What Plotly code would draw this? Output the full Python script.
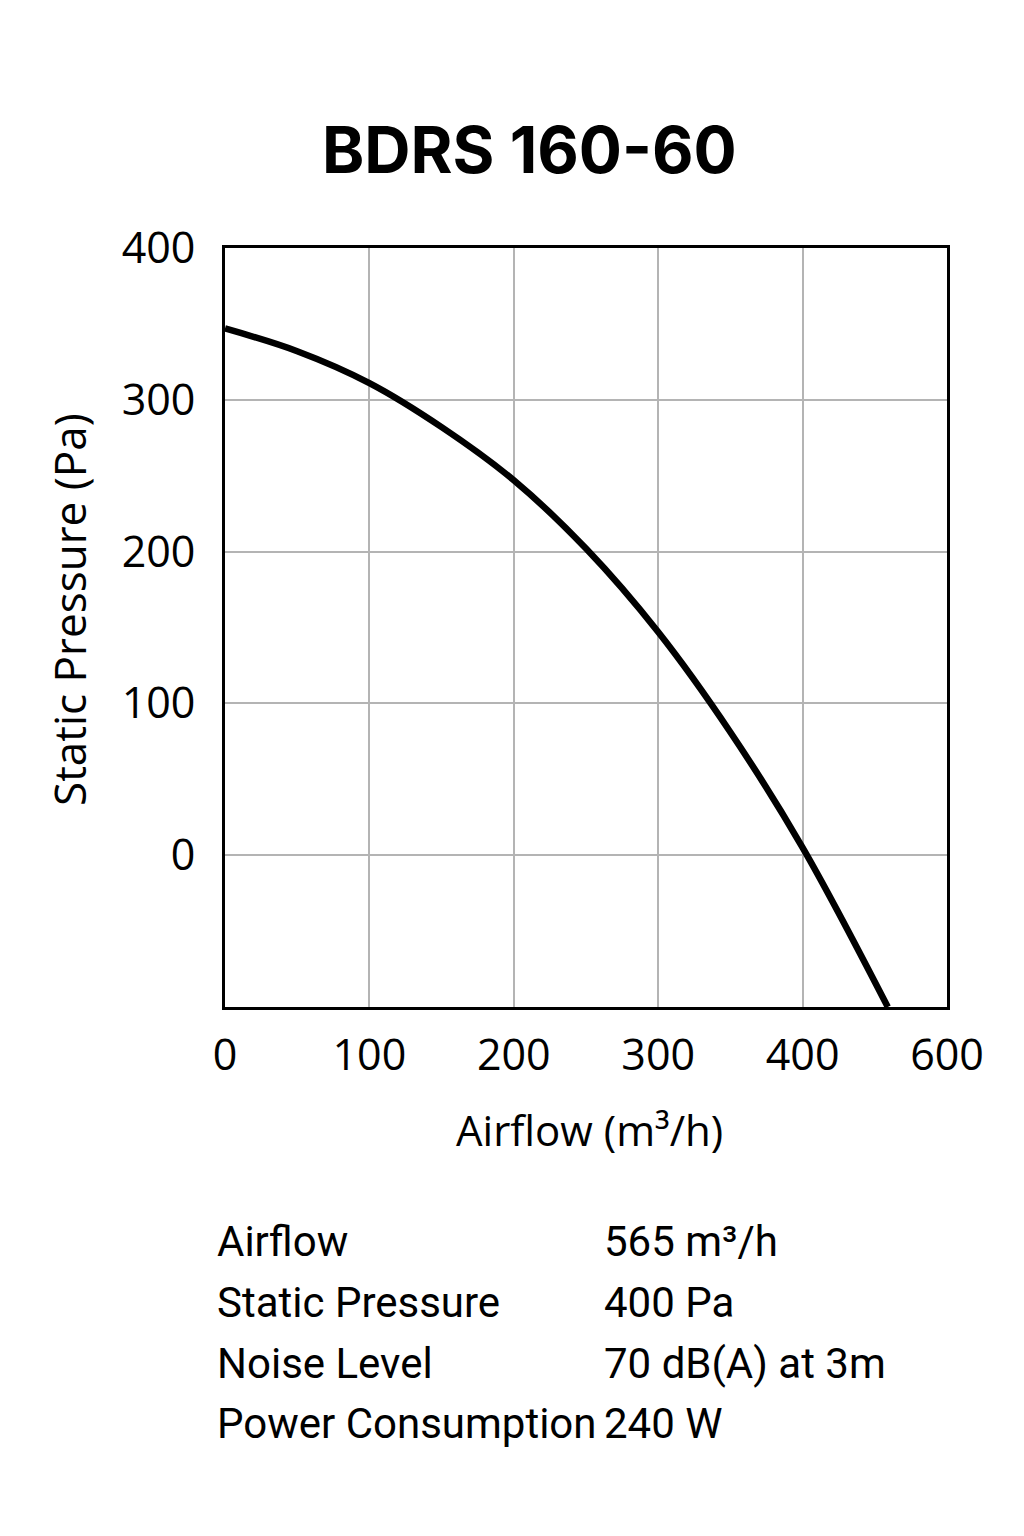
import plotly.graph_objects as go

# Data
airflow = [0, 50, 100, 150, 200, 250, 300, 350, 400, 459]
pressure = [347, 332, 311, 282, 247, 202, 147, 81, 5, -100]

x_tickvals = [0, 100, 200, 300, 400, 500]
x_ticktext = ["0", "100", "200", "300", "400", "600"]
y_tickvals = [0, 100, 200, 300, 400]

title_text = "BDRS 160-60"
x_title = "Airflow (m³/h)"
y_title = "Static Pressure (Pa)"

spec_labels = ["Airflow", "Static Pressure", "Noise Level", "Power Consumption"]
spec_values = ["565 m³/h", "400 Pa", "70 dB(A) at 3m", "240 W"]

W, H = 1024, 1536
OFF = 7  # page offset of the figure in the screenshot
L, T = 224 - OFF, 247 - OFF
R = W - (946 - OFF)
B = H - (1006 - OFF)

fig = go.Figure()
fig.add_trace(go.Scatter(
    x=airflow, y=pressure, mode="lines",
    line=dict(color="black", width=6.5, shape="spline", smoothing=1.0),
    showlegend=False, hoverinfo="skip",
))

fig.update_layout(
    width=W, height=H,
    margin=dict(l=L, r=R, t=T, b=B),
    paper_bgcolor="white", plot_bgcolor="white",
    showlegend=False,
)

tickfont = dict(family="Open Sans, DejaVu Sans, sans-serif", size=43, color="black")

fig.update_xaxes(
    range=[0, 500], tickvals=x_tickvals, ticktext=x_ticktext,
    showgrid=True, gridcolor="#b4b4b4", gridwidth=1.5,
    showline=True, linecolor="black", linewidth=3, mirror=True,
    ticks="outside", ticklen=8, tickcolor="rgba(0,0,0,0)",
    tickfont=tickfont, zeroline=False,
)
fig.update_yaxes(
    range=[-100, 400], tickvals=y_tickvals,
    showgrid=True, gridcolor="#b4b4b4", gridwidth=1.5,
    showline=True, linecolor="black", linewidth=3, mirror=True,
    ticks="outside", ticklen=18, tickcolor="rgba(0,0,0,0)",
    tickfont=tickfont, zeroline=False,
)


def px_x(p):
    p = p - OFF
    return (p - L) / (W - L - R)


def px_y(p):
    p = p - OFF
    return (H - B - p) / (H - T - B)


fig.add_annotation(
    text=f"<b>{title_text}</b>", x=px_x(528), y=px_y(148), xref="paper", yref="paper",
    showarrow=False, font=dict(family="Inter, sans-serif", size=64, color="black"),
    xanchor="center", yanchor="middle",
)
fig.add_annotation(
    text=x_title, x=px_x(588), y=px_y(1128), xref="paper", yref="paper",
    showarrow=False, font=dict(family="Open Sans, sans-serif", size=42, color="black"),
    xanchor="center", yanchor="middle",
)
fig.add_annotation(
    text=y_title, x=px_x(68), y=px_y(609), xref="paper", yref="paper",
    showarrow=False, textangle=-90,
    font=dict(family="Open Sans, sans-serif", size=44, color="black"),
    xanchor="center", yanchor="middle",
)

row_y = [1240, 1301, 1362, 1422]
for lab, val, yy in zip(spec_labels, spec_values, row_y):
    fig.add_annotation(
        text=lab, x=px_x(214), y=px_y(yy), xref="paper", yref="paper",
        showarrow=False, font=dict(family="Roboto, sans-serif", size=42, color="black"),
        xanchor="left", yanchor="middle",
    )
    fig.add_annotation(
        text=val, x=px_x(601), y=px_y(yy), xref="paper", yref="paper",
        showarrow=False, font=dict(family="Roboto, sans-serif", size=42, color="black"),
        xanchor="left", yanchor="middle",
    )

fig.write_html("out.html")
